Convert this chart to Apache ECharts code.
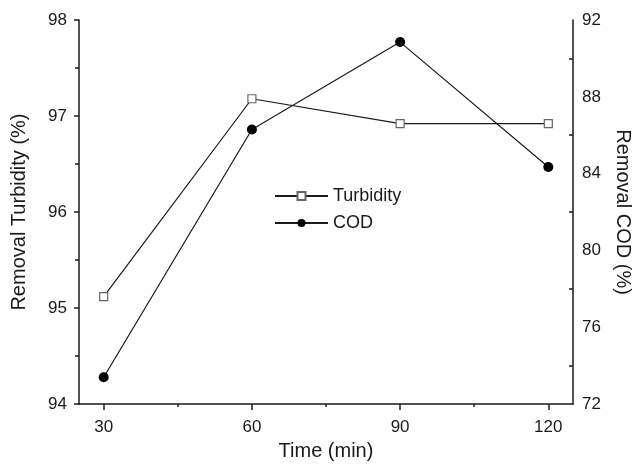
<!DOCTYPE html>
<html>
<head>
<meta charset="utf-8">
<script src="https://cdn.jsdelivr.net/npm/echarts@6/dist/echarts.min.js"></script>
<style>
  html, body { margin: 0; padding: 0; background: #fff; }
  #main { width: 641px; height: 466px; }
</style>
</head>
<body>
<div id="main"></div>
<script>
// data
var times = [30, 60, 90, 120]
var turbidity = [95.12, 97.18, 96.92, 96.92]
var cod = [73.4, 86.3, 90.85, 84.35]
var xMajorTicks = [30, 60, 90, 120]
var xMinorTicks = [45, 75, 105]

var font = 'Liberation Sans, Arial, sans-serif'
var ink = '#1a1a1a'

var chart = echarts.init(document.getElementById('main'))
chart.setOption({
  animation: false,
  textStyle: { fontFamily: font },
  legend: {
    orient: 'vertical',
    left: 274,
    top: 187,
    padding: 0,
    itemWidth: 53,
    itemHeight: 10,
    itemGap: 9,
    textStyle: { fontSize: 18, color: ink, fontFamily: font },
    data: ['Turbidity', 'COD']
  },
  grid: { left: 79, right: 64, top: 20, bottom: 58 },
  xAxis: [
    {
      type: 'value',
      min: 25,
      max: 125,
      name: 'Time (min)',
      nameLocation: 'middle',
      nameGap: 34,
      nameTextStyle: { fontSize: 20, color: ink },
      axisLine: { lineStyle: { color: ink, width: 1.5 } },
      axisTick: { customValues: xMajorTicks, length: 6, lineStyle: { color: ink, width: 1.5 } },
      axisLabel: { customValues: xMajorTicks, fontSize: 17, color: ink, margin: 15 },
      splitLine: { show: false }
    },
    {
      // minor ticks only
      type: 'value',
      min: 25,
      max: 125,
      position: 'bottom',
      axisLine: { show: false },
      axisTick: { customValues: xMinorTicks, length: 3, lineStyle: { color: ink, width: 1.5 } },
      axisLabel: { show: false },
      splitLine: { show: false }
    }
  ],
  yAxis: [
    {
      type: 'value',
      min: 94,
      max: 98,
      interval: 1,
      name: 'Removal Turbidity (%)',
      nameLocation: 'middle',
      nameGap: 50,
      nameTextStyle: { fontSize: 20, color: ink },
      axisLine: { show: true, lineStyle: { color: ink, width: 1.5 } },
      axisTick: { show: true, length: 5, lineStyle: { color: ink, width: 1.5 } },
      minorTick: { show: true, splitNumber: 2, length: 4, lineStyle: { color: ink, width: 1.5 } },
      axisLabel: { fontSize: 17, color: ink, margin: 12 },
      splitLine: { show: false }
    },
    {
      type: 'value',
      min: 72,
      max: 92,
      interval: 4,
      position: 'right',
      name: 'Removal COD (%)',
      nameLocation: 'middle',
      nameRotate: -90,
      nameGap: 40,
      nameTextStyle: { fontSize: 20, color: ink },
      axisLine: { show: true, lineStyle: { color: ink, width: 1.5 } },
      // major ticks invisible; only the inward minor ticks show
      axisTick: { show: true, inside: true, length: 0, lineStyle: { color: ink, width: 0 } },
      minorTick: { show: true, splitNumber: 2, length: 4, lineStyle: { color: ink, width: 1.5 } },
      axisLabel: { fontSize: 17, color: ink, margin: 9 },
      splitLine: { show: false }
    }
  ],
  series: [
    {
      name: 'Turbidity',
      type: 'line',
      xAxisIndex: 0,
      yAxisIndex: 0,
      data: times.map(function (t, i) { return [t, turbidity[i]] }),
      symbol: 'rect',
      symbolSize: 8,
      lineStyle: { color: ink, width: 1.2 },
      itemStyle: { color: '#fff', borderColor: '#666', borderWidth: 1.2 }
    },
    {
      name: 'COD',
      type: 'line',
      xAxisIndex: 0,
      yAxisIndex: 1,
      data: times.map(function (t, i) { return [t, cod[i]] }),
      symbol: 'circle',
      symbolSize: 10,
      lineStyle: { color: ink, width: 1.2 },
      itemStyle: { color: '#000', borderColor: '#000', borderWidth: 0 }
    }
  ]
})
</script>
</body>
</html>
